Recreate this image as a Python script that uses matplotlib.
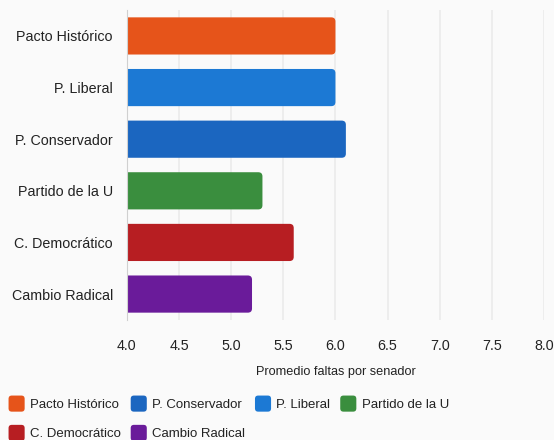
import matplotlib
matplotlib.use("Agg")
import matplotlib.pyplot as plt
from matplotlib.patches import FancyBboxPatch, Patch
from matplotlib.legend_handler import HandlerPatch

plt.rcParams["font.family"] = ["Liberation Sans", "DejaVu Sans"]

# data
parties = ["Pacto Histórico", "P. Liberal", "P. Conservador",
           "Partido de la U", "C. Democrático", "Cambio Radical"]
faltas = [6.0, 6.0, 6.1, 5.3, 5.6, 5.2]
colors = ["#E6541A", "#1C79D4", "#1B66C0", "#3A8E3E", "#B71E22", "#6A1B9A"]
legend_order = ["Pacto Histórico", "P. Conservador", "P. Liberal",
                "Partido de la U", "C. Democrático", "Cambio Radical"]

bg = "#fafafa"
fig = plt.figure(figsize=(5.54, 4.40), dpi=100, facecolor=bg)
ax = fig.add_axes([0.229, 0.273, 0.753, 0.704], facecolor=bg)

ypos = list(range(len(parties)))
bars = ax.barh(ypos, faltas, left=0, height=0.72, color=colors)
ax.set_xlim(4.0, 8.0)
ax.set_ylim(len(parties) - 0.5, -0.5)

# rounded bars
for b, c in zip(bars, colors):
    b.set_visible(False)
    x0 = 3.9
    w = b.get_width() - x0
    p = FancyBboxPatch((x0, b.get_y()), w, b.get_height(),
                       boxstyle="round,pad=0,rounding_size=0.04",
                       mutation_aspect=2.0, fc=c, ec="none", zorder=3)
    ax.add_patch(p)

ax.set_yticks(ypos)
ax.set_yticklabels(parties, fontsize=10.3, color="#222222")
ax.set_xticks([4.0, 4.5, 5.0, 5.5, 6.0, 6.5, 7.0, 7.5, 8.0])
ax.set_xticklabels(["4.0", "4.5", "5.0", "5.5", "6.0", "6.5", "7.0", "7.5", "8.0"],
                   fontsize=10.3, color="#222222")
ax.tick_params(axis="both", length=0)
ax.tick_params(axis="y", pad=10)
ax.tick_params(axis="x", pad=14)
ax.grid(axis="x", color="#ebebeb", linewidth=1.2, zorder=0)
ax.set_axisbelow(True)
for s in ["top", "right", "bottom"]:
    ax.spines[s].set_visible(False)
ax.spines["left"].set_color("#d0d0d0")
ax.spines["left"].set_zorder(4)
ax.set_xlabel("Promedio faltas por senador", fontsize=9.2, color="#222222", labelpad=9)


def rounded_square(legend, orig_handle, xdescent, ydescent, width, height, fontsize):
    s = min(width, height)
    return FancyBboxPatch((-xdescent, -ydescent + (height - s) / 2), s, s,
                          boxstyle="round,pad=0,rounding_size=%f" % (s * 0.2))


# legend, rows filled left to right
cmap = dict(zip(parties, colors))
handles = [Patch(facecolor=cmap[n], edgecolor="none", label=n) for n in legend_order]
order = [0, 4, 1, 5, 2, 3]
fig.legend([handles[i] for i in order], [legend_order[i] for i in order],
           ncol=4, loc="upper left", bbox_to_anchor=(-0.006, 0.128),
           frameon=False, fontsize=9.5, handlelength=1.22, handleheight=1.5,
           handletextpad=0.4, columnspacing=0.75, labelspacing=1.0,
           labelcolor="#222222",
           handler_map={Patch: HandlerPatch(patch_func=rounded_square)})

fig.savefig("out.png", dpi=100, facecolor=bg)
